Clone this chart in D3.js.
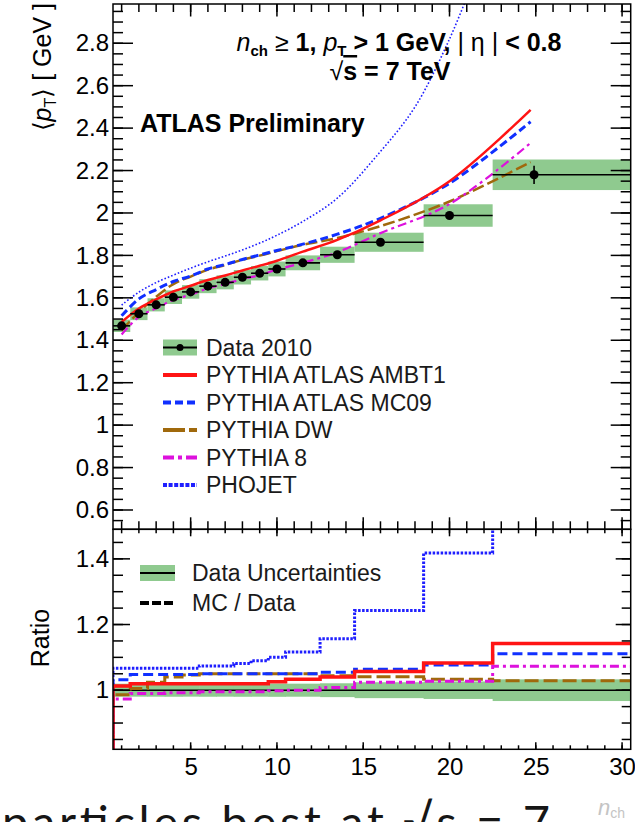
<!doctype html>
<html lang="en">
<head>
<meta charset="UTF-8">
<title>Mean pT vs nch</title>
<style>
  body { margin: 0; background: #fff; }
  svg { display: block; font-family: "Liberation Sans", Arial, Helvetica, sans-serif; }
</style>
</head>
<body>
<svg id="chart" width="635" height="822"></svg>
<script src="https://cdn.jsdelivr.net/npm/d3@7"></script>
<script>
    // n_ch bins of the measurement
    const binEdges = [0.5, 1.5, 2.5, 3.5, 4.5, 5.5, 6.5, 7.5, 8.5, 9.5, 10.5, 12.5, 14.5, 18.5, 22.5, 30.5];

    // data 2010
    const dataN    = [1, 2, 3, 4, 5, 6, 7, 8, 9, 10, 11.5, 13.5, 16, 20, 24.9];
    const dataPt   = [1.468, 1.525, 1.567, 1.603, 1.628, 1.655, 1.673, 1.697, 1.716, 1.736, 1.765, 1.803, 1.862, 1.988, 2.18];
    const dataStat = [0.004, 0.004, 0.004, 0.004, 0.004, 0.005, 0.005, 0.005, 0.006, 0.006, 0.006, 0.008, 0.01, 0.016, 0.043];
    const dataSyst = [0.029, 0.03, 0.031, 0.032, 0.032, 0.033, 0.033, 0.034, 0.034, 0.035, 0.035, 0.038, 0.045, 0.053, 0.072];

    // MC predictions, main panel
    const mcN     = [1, 2, 3, 4, 5, 6, 7, 8, 9, 10, 11.5, 13.5, 16, 20, 24.7];
    const ambt1   = [1.486, 1.55, 1.593, 1.63, 1.657, 1.684, 1.705, 1.729, 1.751, 1.775, 1.818, 1.873, 1.965, 2.15, 2.486];
    const mc09    = [1.515, 1.595, 1.639, 1.677, 1.703, 1.736, 1.757, 1.781, 1.802, 1.823, 1.853, 1.9, 1.975, 2.14, 2.43];
    const dw      = [1.447, 1.533, 1.605, 1.665, 1.7, 1.733, 1.755, 1.779, 1.799, 1.82, 1.85, 1.882, 1.938, 2.054, 2.24];
    const pythia8 = [1.427, 1.51, 1.551, 1.59, 1.615, 1.645, 1.665, 1.689, 1.707, 1.733, 1.765, 1.815, 1.905, 2.042, 2.33];
    const phojetN = [1, 2, 3, 4, 5, 6, 7, 8, 9, 10, 11.5, 13.5, 16, 18, 20, 21.5];
    const phojet  = [1.566, 1.627, 1.672, 1.707, 1.74, 1.77, 1.797, 1.826, 1.858, 1.895, 1.96, 2.07, 2.29, 2.5, 2.82, 3.12];

    // MC / Data, per bin
    const ambt1Ratio   = [1.013, 1.02, 1.02, 1.02, 1.02, 1.02, 1.02, 1.02, 1.02, 1.026, 1.033, 1.04, 1.057, 1.083, 1.142];
    const mc09Ratio    = [1.032, 1.048, 1.048, 1.048, 1.048, 1.05, 1.05, 1.05, 1.05, 1.05, 1.05, 1.055, 1.064, 1.077, 1.111];
    const dwRatio      = [0.986, 1.005, 1.024, 1.04, 1.046, 1.05, 1.05, 1.05, 1.05, 1.05, 1.05, 1.044, 1.041, 1.033, 1.029];
    const pythia8Ratio = [0.973, 0.99, 0.99, 0.992, 0.992, 0.995, 0.995, 0.995, 0.995, 0.998, 1.0, 1.008, 1.024, 1.027, 1.073];
    const phojetRatio  = [1.067, 1.067, 1.067, 1.067, 1.067, 1.074, 1.074, 1.081, 1.09, 1.1, 1.116, 1.157, 1.243, 1.418, 1.62];

    // tick labels
    const mainYTicks  = [0.6, 0.8, 1, 1.2, 1.4, 1.6, 1.8, 2, 2.2, 2.4, 2.6, 2.8];
    const ratioYTicks = [1, 1.2, 1.4];
    const xTicks      = [5, 10, 15, 20, 25, 30];

    const svg = d3.select("#chart");
    svg.append("rect").attr("width", 635).attr("height", 822).attr("fill", "#fff");

    const left = 113, right = 630.7, mainTop = 4, split = 529.3, bottom = 749.3;

    const x = d3.scaleLinear().domain([0.5, 30.5]).range([left, right]);
    const yMain = d3.scaleLinear().domain([0.509, 2.985]).range([split, mainTop]);
    const yRatio = d3.scaleLinear().domain([0.82, 1.49]).range([bottom, split]);

    const defs = svg.append("defs");
    defs.append("clipPath").attr("id", "clipMain").append("rect")
        .attr("x", left).attr("y", mainTop).attr("width", right - left).attr("height", split - mainTop);
    defs.append("clipPath").attr("id", "clipRatio").append("rect")
        .attr("x", left).attr("y", split).attr("width", right - left).attr("height", bottom - split);

    const green = "#8fca8f";

    const series = [
        {name: "PHOJET", n: phojetN, main: phojet, ratio: phojetRatio, color: "#1f1fff",
            width: 1.6, dash: "1.6,2", rWidth: 3, rDash: "2.5,1.5", lWidth: 4, lDash: "4,1.6"},
        {name: "PYTHIA DW", n: mcN, main: dw, ratio: dwRatio, color: "#a0690c",
            width: 2.5, dash: "12,4", rWidth: 3, rDash: "14,5", lWidth: 4, lDash: "22,4,8,4"},
        {name: "PYTHIA 8", n: mcN, main: pythia8, ratio: pythia8Ratio, color: "#dd11dd",
            width: 2.2, dash: "9,4,3,4", rWidth: 3, rDash: "9,4,3,4", lWidth: 4, lDash: "11,4,4,4"},
        {name: "PYTHIA ATLAS MC09", n: mcN, main: mc09, ratio: mc09Ratio, color: "#1030ff",
            width: 3, dash: "8,4", rWidth: 3, rDash: "10,5", lWidth: 4, lDash: "8,4"},
        {name: "PYTHIA ATLAS AMBT1", n: mcN, main: ambt1, ratio: ambt1Ratio, color: "#ff1414",
            width: 2.5, dash: null, rWidth: 3.5, rDash: null, lWidth: 4, lDash: null}
    ];

    // ---------- main panel ----------
    const gMain = svg.append("g").attr("clip-path", "url(#clipMain)");

    // systematic boxes
    gMain.selectAll(".syst")
        .data(dataPt)
        .enter().append("rect")
        .attr("x", (d, i) => x(binEdges[i]))
        .attr("width", (d, i) => x(binEdges[i + 1]) - x(binEdges[i]))
        .attr("y", (d, i) => yMain(d + dataSyst[i]))
        .attr("height", (d, i) => yMain(d - dataSyst[i]) - yMain(d + dataSyst[i]))
        .attr("fill", green);

    const mainLine = d3.line()
        .x(d => x(d[0]))
        .y(d => yMain(d[1]))
        .curve(d3.curveCatmullRom.alpha(0.5));

    series.forEach(s => {
        gMain.append("path")
            .datum(d3.zip(s.n, s.main))
            .attr("d", mainLine)
            .attr("fill", "none")
            .attr("stroke", s.color)
            .attr("stroke-width", s.width)
            .attr("stroke-dasharray", s.dash);
    });

    // data points with bin width and stat errors
    const pts = gMain.selectAll(".pt").data(dataPt).enter().append("g");
    pts.append("line")
        .attr("x1", (d, i) => x(binEdges[i])).attr("x2", (d, i) => x(binEdges[i + 1]))
        .attr("y1", d => yMain(d)).attr("y2", d => yMain(d))
        .attr("stroke", "#000").attr("stroke-width", 1.6);
    pts.append("line")
        .attr("x1", (d, i) => x(dataN[i])).attr("x2", (d, i) => x(dataN[i]))
        .attr("y1", (d, i) => yMain(d - dataStat[i])).attr("y2", (d, i) => yMain(d + dataStat[i]))
        .attr("stroke", "#000").attr("stroke-width", 1.6);
    pts.append("circle")
        .attr("cx", (d, i) => x(dataN[i])).attr("cy", d => yMain(d))
        .attr("r", 4.5).attr("fill", "#000");

    // ---------- ratio panel ----------
    const gRatio = svg.append("g").attr("clip-path", "url(#clipRatio)");

    gRatio.selectAll(".band")
        .data(dataPt)
        .enter().append("rect")
        .attr("x", (d, i) => x(binEdges[i]))
        .attr("width", (d, i) => x(binEdges[i + 1]) - x(binEdges[i]) + 0.5)
        .attr("y", (d, i) => yRatio(1 + dataSyst[i] / d))
        .attr("height", (d, i) => yRatio(1 - dataSyst[i] / d) - yRatio(1 + dataSyst[i] / d))
        .attr("fill", green);

    gRatio.append("line")
        .attr("x1", left).attr("x2", right)
        .attr("y1", yRatio(1)).attr("y2", yRatio(1))
        .attr("stroke", "#000").attr("stroke-width", 1.5);

    const stepLine = d3.line().x(d => x(d[0])).y(d => yRatio(d[1]));

    series.forEach(s => {
        let p = [[binEdges[0], yRatio.domain()[0]]];
        s.ratio.forEach((v, i) => {
            p.push([binEdges[i], v]);
            p.push([binEdges[i + 1], v]);
        });
        gRatio.append("path")
            .datum(p)
            .attr("d", stepLine)
            .attr("fill", "none")
            .attr("stroke", s.color)
            .attr("stroke-width", s.rWidth)
            .attr("stroke-dasharray", s.rDash);
    });

    // ---------- frames and ticks ----------
    function ticks(g, vals, len, dir) {
        // dir: "left" | "right" | "top" | "bottom" side of a frame, ticks drawn inward
        vals.forEach(v => {
            let l = g.append("line").attr("stroke", "#000").attr("stroke-width", 1.5);
            if (dir === "left") l.attr("x1", left).attr("x2", left + len).attr("y1", v).attr("y2", v);
            if (dir === "right") l.attr("x1", right).attr("x2", right - len).attr("y1", v).attr("y2", v);
            if (dir === "top") l.attr("x1", v).attr("x2", v).attr("y1", g.datum()).attr("y2", g.datum() + len);
            if (dir === "bottom") l.attr("x1", v).attr("x2", v).attr("y1", g.datum()).attr("y2", g.datum() - len);
        });
    }

    const axes = svg.append("g");
    const mainMinor = d3.range(0.55, 2.96, 0.05).map(yMain);
    const mainMajor = mainYTicks.map(yMain);
    ticks(axes, mainMinor, 10, "left");
    ticks(axes, mainMajor, 20, "left");
    ticks(axes, mainMinor, 10, "right");
    ticks(axes, mainMajor, 20, "right");

    const ratioMinor = d3.range(0.85, 1.47, 0.05).map(yRatio);
    const ratioMajor = ratioYTicks.map(yRatio);
    ticks(axes, ratioMinor, 10, "left");
    ticks(axes, ratioMajor, 17, "left");
    ticks(axes, ratioMinor, 9, "right");
    ticks(axes, ratioMajor, 15, "right");

    const xMinor = d3.range(1, 31, 1).map(x);
    const xMajor = xTicks.map(x);
    const gTop = axes.append("g").datum(mainTop);
    ticks(gTop, xMinor, 8, "top");
    ticks(gTop, xMajor, 12.5, "top");
    const gMainBottom = axes.append("g").datum(split);
    ticks(gMainBottom, xMinor, 8, "bottom");
    ticks(gMainBottom, xMajor, 12, "bottom");
    const gRatioTop = axes.append("g").datum(split);
    ticks(gRatioTop, xMinor, 4, "top");
    ticks(gRatioTop, xMajor, 7, "top");
    const gRatioBottom = axes.append("g").datum(bottom);
    ticks(gRatioBottom, xMinor, 4, "bottom");
    ticks(gRatioBottom, xMajor, 7, "bottom");

    axes.append("rect")
        .attr("x", left).attr("y", mainTop).attr("width", right - left).attr("height", split - mainTop)
        .attr("fill", "none").attr("stroke", "#000").attr("stroke-width", 1.5);
    axes.append("rect")
        .attr("x", left).attr("y", split).attr("width", right - left).attr("height", bottom - split)
        .attr("fill", "none").attr("stroke", "#000").attr("stroke-width", 1.5);

    // tick labels
    svg.append("g")
        .attr("transform", `translate(${left},0)`)
        .call(d3.axisLeft(yMain).tickValues(mainYTicks).tickSize(0).tickPadding(4).tickFormat(d => String(d)))
        .call(g => g.select(".domain").remove())
        .attr("font-size", 24).attr("font-family", null);

    svg.append("g")
        .attr("transform", `translate(${left},0)`)
        .call(d3.axisLeft(yRatio).tickValues(ratioYTicks).tickSize(0).tickPadding(4).tickFormat(d => String(d)))
        .call(g => g.select(".domain").remove())
        .attr("font-size", 24).attr("font-family", null);

    svg.append("g")
        .attr("transform", `translate(0,${bottom})`)
        .call(d3.axisBottom(x).tickValues(xTicks).tickSize(0).tickPadding(9))
        .call(g => g.select(".domain").remove())
        .attr("font-size", 24).attr("font-family", null);

    // axis titles
    const yl = svg.append("text")
        .attr("transform", "translate(51,3) rotate(-90)")
        .attr("text-anchor", "end").attr("font-size", 25);
    yl.append("tspan").text("\u27E8");
    yl.append("tspan").attr("font-style", "italic").text("p");
    yl.append("tspan").attr("font-size", 16).attr("dy", 5).text("T");
    yl.append("tspan").attr("dy", -5).text("\u27E9 [ GeV ]");

    svg.append("text")
        .attr("transform", "translate(49,638) rotate(-90)")
        .attr("text-anchor", "middle").attr("font-size", 25)
        .text("Ratio");

    const xl = svg.append("text").attr("x", 598).attr("y", 815).attr("fill", "#c4c4c4").attr("font-size", 22);
    xl.append("tspan").attr("font-style", "italic").text("n");
    xl.append("tspan").attr("font-size", 14).attr("dy", 3).text("ch");

    // labels inside the plot
    const t1 = svg.append("text").attr("x", 399).attr("y", 51).attr("text-anchor", "middle")
        .attr("font-size", 25).attr("font-weight", "bold");
    t1.append("tspan").attr("font-style", "italic").attr("font-weight", "normal").text("n");
    t1.append("tspan").attr("font-size", 15).attr("dy", 5).text("ch");
    t1.append("tspan").attr("dy", -5).attr("font-weight", "normal").text(" \u2265 ");
    t1.append("tspan").text("1, ");
    t1.append("tspan").attr("font-style", "italic").attr("font-weight", "normal").text("p");
    t1.append("tspan").attr("font-size", 15).attr("dy", 5).text("T");
    t1.append("tspan").attr("dy", -5).text(" > 1 GeV, ");
    t1.append("tspan").attr("font-weight", "normal").text("| \u03B7 |");
    t1.append("tspan").text(" < 0.8");

    const t2 = svg.append("text").attr("x", 390).attr("y", 80).attr("text-anchor", "middle")
        .attr("font-size", 25).attr("font-weight", "bold");
    t2.append("tspan").attr("font-weight", "normal").text("\u221A");
    t2.append("tspan").style("text-decoration", "overline").text("s");
    t2.append("tspan").text(" = 7 TeV");

    svg.append("text").attr("x", 140).attr("y", 132)
        .attr("font-size", 25).attr("font-weight", "bold")
        .text("ATLAS Preliminary");

    // ---------- legends ----------
    const legRows = [
        {label: "Data 2010"},
        {label: "PYTHIA ATLAS AMBT1", s: series[4]},
        {label: "PYTHIA ATLAS MC09", s: series[3]},
        {label: "PYTHIA DW", s: series[1]},
        {label: "PYTHIA 8", s: series[2]},
        {label: "PHOJET", s: series[0]}
    ];
    const legY = d3.scaleLinear().domain([0, 5]).range([347.5, 485]);
    const leg = svg.append("g");
    legRows.forEach((r, i) => {
        const yy = legY(i);
        if (!r.s) {
            leg.append("rect").attr("x", 163).attr("y", yy - 8).attr("width", 34).attr("height", 16).attr("fill", green);
            leg.append("line").attr("x1", 163).attr("x2", 197).attr("y1", yy).attr("y2", yy)
                .attr("stroke", "#000").attr("stroke-width", 1.8);
            leg.append("circle").attr("cx", 180).attr("cy", yy).attr("r", 3.5).attr("fill", "#000");
        } else {
            leg.append("line").attr("x1", 163).attr("x2", 197).attr("y1", yy).attr("y2", yy)
                .attr("stroke", r.s.color).attr("stroke-width", r.s.lWidth)
                .attr("stroke-dasharray", r.s.lDash);
        }
        leg.append("text").attr("x", 206).attr("y", yy).attr("dy", "0.36em")
            .attr("font-size", 23).attr("fill", "#1a1a1a").text(r.label);
    });

    // ratio legend
    leg.append("rect").attr("x", 140).attr("y", 565).attr("width", 35).attr("height", 16).attr("fill", green);
    leg.append("line").attr("x1", 140).attr("x2", 175).attr("y1", 573).attr("y2", 573)
        .attr("stroke", "#000").attr("stroke-width", 1.8);
    leg.append("text").attr("x", 192).attr("y", 573).attr("dy", "0.36em")
        .attr("font-size", 23).attr("fill", "#1a1a1a").text("Data Uncertainties");
    leg.append("line").attr("x1", 140).attr("x2", 175).attr("y1", 603).attr("y2", 603)
        .attr("stroke", "#000").attr("stroke-width", 4).attr("stroke-dasharray", "9,3");
    leg.append("text").attr("x", 192).attr("y", 603).attr("dy", "0.36em")
        .attr("font-size", 23).attr("fill", "#1a1a1a").text("MC / Data");

    // slide text under the figure
    svg.append("text").attr("x", 2).attr("y", 839)
        .attr("font-family", "Lato, 'Open Sans', sans-serif").attr("font-size", 47).attr("fill", "#161616")
        .attr("textLength", 548).attr("lengthAdjust", "spacing")
        .text("particles best at \u221As = 7");
</script>
</body>
</html>
